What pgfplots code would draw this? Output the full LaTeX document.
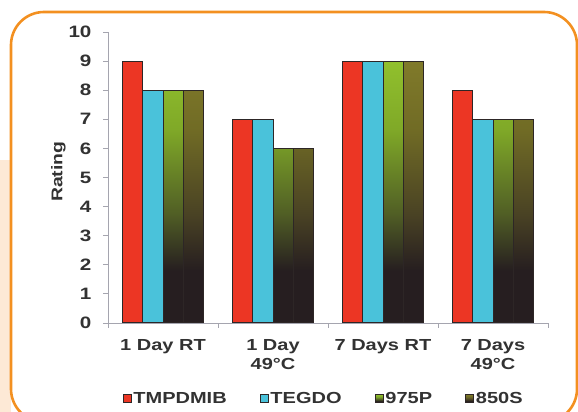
\documentclass[border=0pt]{standalone}
\usepackage{fontspec}
\setmainfont{Liberation Sans}[FakeStretch=1.25]
\usepackage{pgfplots}
\pgfplotsset{compat=1.18}

\definecolor{frameorange}{RGB}{243,144,32}
\definecolor{stripfill}{RGB}{253,233,214}
\definecolor{axisgray}{RGB}{165,165,175}
\definecolor{labelgray}{RGB}{50,50,50}
\definecolor{barred}{RGB}{236,54,36}
\definecolor{barcyan}{RGB}{74,194,218}
\definecolor{bargreen}{RGB}{145,192,45}
\definecolor{barolive}{RGB}{128,122,42}
\definecolor{bardark}{RGB}{38,30,32}
\definecolor{baredge}{RGB}{45,38,38}

% vertical fades: the bar's box spans 25bp (bottom) to 75bp (top)
\pgfdeclareverticalshading{fadegreen}{100bp}{color(0bp)=(bardark); color(35bp)=(bardark); color(46bp)=(bargreen!40!bardark); color(62bp)=(bargreen!88!black); color(75bp)=(bargreen); color(100bp)=(bargreen)}
\pgfdeclareverticalshading{fadeolive}{100bp}{color(0bp)=(bardark); color(35bp)=(bardark); color(46bp)=(barolive!40!bardark); color(62bp)=(barolive!88!black); color(75bp)=(barolive); color(100bp)=(barolive)}

\begin{document}
\begin{tikzpicture}
\useasboundingbox (0pt,0pt) rectangle (578pt,412pt);
\begin{scope}
  \clip (0pt,0pt) rectangle (578pt,412pt);
  \fill[stripfill] (0pt,0pt) rectangle (11pt,252pt);
  \draw[frameorange, line width=2.6pt, rounded corners=33pt] (11pt,-10pt) rectangle (577pt,400pt);
\end{scope}

\begin{axis}[
  at={(108pt,89pt)}, anchor=south west,
  scale only axis, width=440pt, height=291pt,
  xmin=-0.5, xmax=3.5, ymin=0, ymax=10,
  axis lines=left,
  axis line style={-, draw=axisgray, line width=0.8pt},
  ybar=0pt, bar width=0.186,
  ytick={0,1,...,10},
  tick align=outside,
  major tick length=5pt,
  minor tick length=5pt,
  tick style={draw=axisgray, line width=0.8pt},
  xtick={0,1,2,3},
  xticklabels={1 Day RT, {1 Day\\49°C}, 7 Days RT, {7 Days\\49°C}},
  major x tick style={draw=none},
  minor xtick={-0.5,0.5,1.5,2.5,3.5},
  /pgf/number format/assume math mode=true,
  yticklabel style={font=\fontsize{16.5}{18}\selectfont\bfseries, text=labelgray, xshift=-8pt},
  xticklabel style={font=\fontsize{16}{19}\selectfont\bfseries, text=labelgray, align=center, yshift=-8pt},
  ylabel={Rating},
  every axis y label/.style={at={(axis description cs:-0.113,0.52)}, rotate=90, anchor=center,
    font=\fontsize{15.5}{18}\selectfont\bfseries, text=labelgray},
  legend columns=4,
  legend style={at={(axis description cs:0.49,-0.26)}, anchor=center, draw=none, fill=none,
    font=\fontsize{16}{20}\selectfont\bfseries, text=labelgray,
    /tikz/every even column/.append style={column sep=31pt},
    nodes={inner xsep=2pt}},
  legend image code/.code={\draw[#1, draw=baredge, line width=0.8pt] (0pt,-4pt) rectangle (8pt,4pt);},
  every axis plot/.append style={draw=baredge, line width=1pt},
]
\addplot[fill=barred] coordinates {(0,9) (1,7) (2,9) (3,8)};
\addplot[fill=barcyan] coordinates {(0,8) (1,7) (2,9) (3,7)};
\addplot[shading=fadegreen] coordinates {(0,8) (1,6) (2,9) (3,7)};
\addplot[shading=fadeolive] coordinates {(0,8) (1,6) (2,9) (3,7)};
\legend{TMPDMIB, TEGDO, 975P, 850S}
\end{axis}
\end{tikzpicture}
\end{document}
